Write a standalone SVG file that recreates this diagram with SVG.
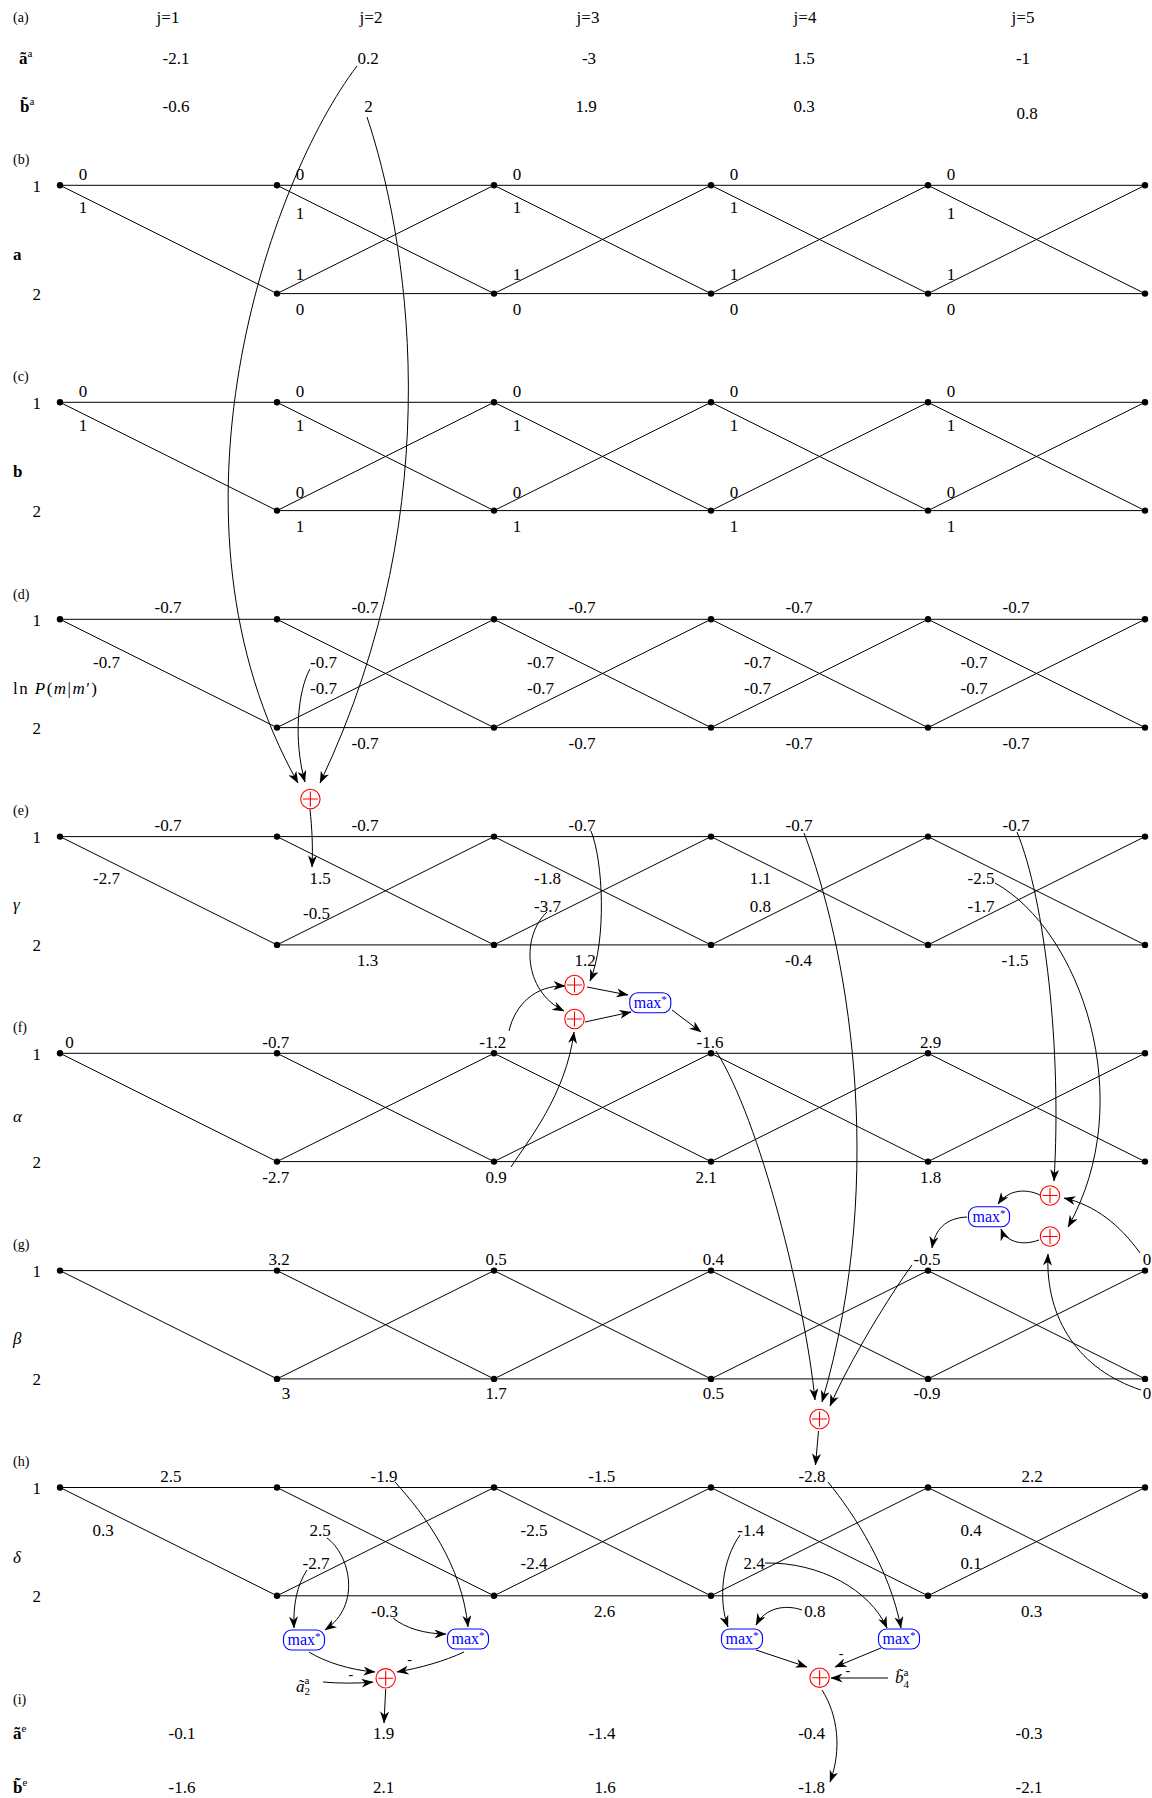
<svg xmlns="http://www.w3.org/2000/svg" xmlns:xlink="http://www.w3.org/1999/xlink" width="1152" height="1798" viewBox="0 0 1152 1798" font-family="'Liberation Serif', 'DejaVu Serif', serif">
<style>
.n{font-family:'Liberation Serif','DejaVu Serif',serif;font-size:17px;text-anchor:middle;fill:#000}
.l{font-family:'Liberation Serif','DejaVu Serif',serif;font-size:17px;fill:#000}
.sec{font-family:'Liberation Serif','DejaVu Serif',serif;font-size:14px;fill:#000}
.sup{font-size:11px;font-weight:normal;font-style:normal}
.edge{stroke:#000;stroke-width:1;fill:none}
.dot{fill:#000}
.c{stroke:#000;stroke-width:1;fill:none;marker-end:url(#arr)}
.plus circle{fill:#fff;stroke:#f00;stroke-width:1.1}
.plus path{stroke:#f00;stroke-width:1.1;fill:none}
.mx rect{fill:#fff;stroke:#00f;stroke-width:1.1}
.mx text{font-family:'Liberation Serif','DejaVu Serif',serif;font-size:16px;fill:#00f;text-anchor:middle}
.mn{font-family:'Liberation Serif','DejaVu Serif',serif;font-size:14px;text-anchor:middle;fill:#000}
</style>
<defs>
<marker id="arr" viewBox="0 0 12 9" refX="11.5" refY="4.5" markerWidth="12" markerHeight="9" orient="auto" markerUnits="userSpaceOnUse"><path d="M0,0 L12,4.5 L0,9 L3.5,4.5 Z" fill="#000"/></marker>
<g id="trellis">
<path class="edge" d="M60,0H1145 M277,108.3H1145 M60,0L277,108.3 M277,0L494,108.3 M494,0L711,108.3 M711,0L928,108.3 M928,0L1145,108.3 M277,108.3L494,0 M494,108.3L711,0 M711,108.3L928,0 M928,108.3L1145,0"/>
<g class="dot">
<circle cx="60" cy="0" r="3.2"/><circle cx="277" cy="0" r="3.2"/><circle cx="494" cy="0" r="3.2"/><circle cx="711" cy="0" r="3.2"/><circle cx="928" cy="0" r="3.2"/><circle cx="1145" cy="0" r="3.2"/>
<circle cx="277" cy="108.3" r="3.2"/><circle cx="494" cy="108.3" r="3.2"/><circle cx="711" cy="108.3" r="3.2"/><circle cx="928" cy="108.3" r="3.2"/><circle cx="1145" cy="108.3" r="3.2"/>
</g>
</g>
</defs>
<rect width="1152" height="1798" fill="#fff"/>

<!-- (a) -->
<g id="sec-a">
<text class="sec" x="13" y="22">(a)</text>
<text class="n" x="168" y="23">j=1</text><text class="n" x="371" y="23">j=2</text><text class="n" x="588" y="23">j=3</text><text class="n" x="805" y="23">j=4</text><text class="n" x="1023" y="23">j=5</text>
<text class="l" x="19" y="64" font-weight="bold">ã<tspan class="sup" dy="-7">a</tspan></text>
<text class="l" x="20" y="112" font-weight="bold">b&#x303;<tspan class="sup" dy="-7">a</tspan></text>
<text class="n" x="176" y="64">-2.1</text><text class="n" x="368" y="64">0.2</text><text class="n" x="589" y="64">-3</text><text class="n" x="804" y="64">1.5</text><text class="n" x="1023" y="64">-1</text>
<text class="n" x="176" y="112">-0.6</text><text class="n" x="368.5" y="112">2</text><text class="n" x="586" y="112">1.9</text><text class="n" x="804" y="112">0.3</text><text class="n" x="1027" y="118.5">0.8</text>
</g>

<!-- (b) -->
<g id="sec-b">
<text class="sec" x="13" y="164">(b)</text>
<use xlink:href="#trellis" href="#trellis" y="185.3"/>
<text class="n" x="36.7" y="191.5">1</text><text class="n" x="36.7" y="299.5">2</text>
<text class="l" x="13" y="260" font-weight="bold">a</text>
<text class="n" x="83" y="180">0</text><text class="n" x="300" y="180">0</text><text class="n" x="517" y="180">0</text><text class="n" x="734" y="180">0</text><text class="n" x="951" y="180">0</text>
<text class="n" x="83" y="213">1</text><text class="n" x="300" y="219">1</text><text class="n" x="517" y="213">1</text><text class="n" x="734" y="213">1</text><text class="n" x="951" y="219">1</text>
<text class="n" x="300" y="280">1</text><text class="n" x="517" y="280">1</text><text class="n" x="734" y="280">1</text><text class="n" x="951" y="280">1</text>
<text class="n" x="300" y="315">0</text><text class="n" x="517" y="315">0</text><text class="n" x="734" y="315">0</text><text class="n" x="951" y="315">0</text>
</g>

<!-- (c) -->
<g id="sec-c">
<text class="sec" x="13" y="381">(c)</text>
<use xlink:href="#trellis" href="#trellis" y="402.3"/>
<text class="n" x="36.7" y="408.5">1</text><text class="n" x="36.7" y="517">2</text>
<text class="l" x="13" y="476.5" font-weight="bold">b</text>
<text class="n" x="83" y="396.5">0</text><text class="n" x="300" y="396.5">0</text><text class="n" x="517" y="396.5">0</text><text class="n" x="734" y="396.5">0</text><text class="n" x="951" y="396.5">0</text>
<text class="n" x="83" y="431">1</text><text class="n" x="300" y="431">1</text><text class="n" x="517" y="431">1</text><text class="n" x="734" y="431">1</text><text class="n" x="951" y="431">1</text>
<text class="n" x="300" y="497.5">0</text><text class="n" x="517" y="497.5">0</text><text class="n" x="734" y="497.5">0</text><text class="n" x="951" y="497.5">0</text>
<text class="n" x="300" y="532">1</text><text class="n" x="517" y="532">1</text><text class="n" x="734" y="532">1</text><text class="n" x="951" y="532">1</text>
</g>

<!-- (d) -->
<g id="sec-d">
<text class="sec" x="13" y="599">(d)</text>
<use xlink:href="#trellis" href="#trellis" y="619.3"/>
<text class="n" x="36.7" y="625.5">1</text><text class="n" x="36.7" y="734">2</text>
<text class="l" x="13" y="694" textLength="84">ln <tspan font-style="italic">P</tspan>(<tspan font-style="italic">m</tspan>|<tspan font-style="italic">m</tspan>′)</text>
<text class="n" x="168" y="613">-0.7</text><text class="n" x="365" y="613">-0.7</text><text class="n" x="582" y="613">-0.7</text><text class="n" x="799" y="613">-0.7</text><text class="n" x="1016" y="613">-0.7</text>
<text class="n" x="106.5" y="667.5">-0.7</text><text class="n" x="323.5" y="667.5">-0.7</text><text class="n" x="540.5" y="667.5">-0.7</text><text class="n" x="757.5" y="667.5">-0.7</text><text class="n" x="974" y="667.5">-0.7</text>
<text class="n" x="323.5" y="694">-0.7</text><text class="n" x="540.5" y="694">-0.7</text><text class="n" x="757.5" y="694">-0.7</text><text class="n" x="974" y="694">-0.7</text>
<text class="n" x="365" y="748.5">-0.7</text><text class="n" x="582" y="748.5">-0.7</text><text class="n" x="799" y="748.5">-0.7</text><text class="n" x="1016" y="748.5">-0.7</text>
</g>

<!-- (e) -->
<g id="sec-e">
<text class="sec" x="13" y="815">(e)</text>
<use xlink:href="#trellis" href="#trellis" y="836.6"/>
<text class="n" x="36.7" y="842.5">1</text><text class="n" x="36.7" y="951">2</text>
<text class="l" x="13" y="910" font-style="italic">γ</text>
<text class="n" x="168" y="830.5">-0.7</text><text class="n" x="365" y="830.5">-0.7</text><text class="n" x="582" y="830.5">-0.7</text><text class="n" x="799" y="830.5">-0.7</text><text class="n" x="1016" y="830.5">-0.7</text>
<text class="n" x="106.5" y="884">-2.7</text>
<text class="n" x="320" y="884">1.5</text><text class="n" x="316.5" y="918.5">-0.5</text>
<text class="n" x="547.5" y="884">-1.8</text><text class="n" x="547.5" y="912">-3.7</text>
<text class="n" x="760.4" y="884">1.1</text><text class="n" x="760.4" y="912">0.8</text>
<text class="n" x="981" y="884">-2.5</text><text class="n" x="981" y="912">-1.7</text>
<text class="n" x="367.6" y="966">1.3</text><text class="n" x="585" y="966">1.2</text><text class="n" x="798.5" y="966">-0.4</text><text class="n" x="1015" y="966">-1.5</text>
</g>

<!-- (f) -->
<g id="sec-f">
<text class="sec" x="13" y="1032">(f)</text>
<use xlink:href="#trellis" href="#trellis" y="1053.3"/>
<text class="n" x="36.7" y="1059.5">1</text><text class="n" x="36.7" y="1168">2</text>
<text class="l" x="13" y="1121.5" font-style="italic">α</text>
<text class="n" x="69.5" y="1047.5">0</text><text class="n" x="275.8" y="1047.5">-0.7</text><text class="n" x="492.8" y="1047.5">-1.2</text><text class="n" x="710" y="1047.5">-1.6</text><text class="n" x="930.5" y="1047.5">2.9</text>
<text class="n" x="275.8" y="1182.5">-2.7</text><text class="n" x="496" y="1182.5">0.9</text><text class="n" x="706" y="1182.5">2.1</text><text class="n" x="930.5" y="1182.5">1.8</text>
</g>

<!-- (g) -->
<g id="sec-g">
<text class="sec" x="13" y="1248.5">(g)</text>
<use xlink:href="#trellis" href="#trellis" y="1270.6"/>
<text class="n" x="36.7" y="1276.8">1</text><text class="n" x="36.7" y="1385.3">2</text>
<text class="l" x="13" y="1344" font-style="italic" fill="#444">β</text>
<text class="n" x="279" y="1265">3.2</text><text class="n" x="496" y="1265">0.5</text><text class="n" x="713.4" y="1265">0.4</text><text class="n" x="927" y="1265">-0.5</text><text class="n" x="1147" y="1265">0</text>
<text class="n" x="286" y="1399.3">3</text><text class="n" x="496" y="1399.3">1.7</text><text class="n" x="713.4" y="1399.3">0.5</text><text class="n" x="927" y="1399.3">-0.9</text><text class="n" x="1147" y="1399.3">0</text>
</g>

<!-- (h) -->
<g id="sec-h">
<text class="sec" x="13" y="1465.5">(h)</text>
<use xlink:href="#trellis" href="#trellis" y="1487.5"/>
<text class="n" x="36.7" y="1493.7">1</text><text class="n" x="36.7" y="1602">2</text>
<text class="l" x="13" y="1562.5" font-style="italic">δ</text>
<text class="n" x="170.8" y="1481.7">2.5</text><text class="n" x="384" y="1481.7">-1.9</text><text class="n" x="601.7" y="1481.7">-1.5</text><text class="n" x="812" y="1481.7">-2.8</text><text class="n" x="1032" y="1481.7">2.2</text>
<text class="n" x="103" y="1535.7">0.3</text>
<text class="n" x="320" y="1535.7">2.5</text><text class="n" x="316" y="1569.3">-2.7</text>
<text class="n" x="534" y="1535.7">-2.5</text><text class="n" x="534" y="1569.3">-2.4</text>
<text class="n" x="750.8" y="1535.7">-1.4</text><text class="n" x="754" y="1569.3">2.4</text>
<text class="n" x="971" y="1535.7">0.4</text><text class="n" x="971" y="1569.3">0.1</text>
<text class="n" x="384.5" y="1616.5">-0.3</text><text class="n" x="604.6" y="1616.5">2.6</text><text class="n" x="814.8" y="1616.5">0.8</text><text class="n" x="1031.5" y="1616.5">0.3</text>
<text class="l" x="296" y="1691.5"><tspan font-style="italic">ã</tspan><tspan font-size="11" dy="3.5">2</tspan><tspan font-size="11" dx="-5.5" dy="-11">a</tspan></text>
<text class="l" x="895" y="1683"><tspan font-style="italic">b&#x303;</tspan><tspan font-size="11" dy="4.5">4</tspan><tspan font-size="11" dx="-5.5" dy="-12">a</tspan></text>
<text class="mn" x="409.6" y="1664">-</text><text class="mn" x="350.8" y="1678.7">-</text><text class="mn" x="841.2" y="1658">-</text><text class="mn" x="847.9" y="1674.7">-</text>
</g>

<!-- (i) -->
<g id="sec-i">
<text class="sec" x="13" y="1703.5">(i)</text>
<text class="l" x="13" y="1739" font-weight="bold">ã<tspan class="sup" dy="-7">e</tspan></text>
<text class="l" x="13" y="1793" font-weight="bold">b&#x303;<tspan class="sup" dy="-7">e</tspan></text>
<text class="n" x="182" y="1739">-0.1</text><text class="n" x="383.5" y="1739">1.9</text><text class="n" x="602" y="1739">-1.4</text><text class="n" x="811.6" y="1739">-0.4</text><text class="n" x="1029" y="1739">-0.3</text>
<text class="n" x="182" y="1793">-1.6</text><text class="n" x="383.5" y="1793">2.1</text><text class="n" x="605" y="1793">1.6</text><text class="n" x="811.6" y="1793">-1.8</text><text class="n" x="1029" y="1793">-2.1</text>
</g>

<!-- connectors -->
<g id="connectors">
<path class="c" d="M357,66 C270,180 150,520 298,783"/>
<path class="c" d="M367,117 C405,230 455,500 320,783"/>
<path class="c" d="M310,669 C298,690 293,740 305,782"/>
<path class="c" d="M310,809 C312,830 313,845 312,867"/>
<path class="c" d="M591,831 C603,860 607,940 590,981"/>
<path class="c" d="M547,912 C522,935 522,990 564,1011"/>
<path class="c" d="M509,1031 C515,1005 535,985 565,986"/>
<path class="c" d="M511,1167 C527,1142 566,1095 574,1032"/>
<path class="c" d="M587,987 L628,995"/>
<path class="c" d="M585,1022 L631,1012"/>
<path class="c" d="M672,1010 L701,1032"/>
<path class="c" d="M804,833 C845,940 890,1170 822,1402"/>
<path class="c" d="M716,1051 C760,1120 805,1300 815,1400"/>
<path class="c" d="M912,1265 C890,1295 850,1360 830,1406"/>
<path class="c" d="M818.5,1431 L815.5,1465"/>
<path class="c" d="M1017,832 C1045,900 1062,1050 1054,1181"/>
<path class="c" d="M995,883 C1080,930 1140,1100 1068,1227"/>
<path class="c" d="M1140,1253 C1120,1225 1095,1205 1064,1198"/>
<path class="c" d="M1141,1390 C1080,1370 1045,1320 1048,1254"/>
<path class="c" d="M1040,1195 C1025,1188 1008,1190 998,1204"/>
<path class="c" d="M1039,1240 C1020,1247 1005,1240 1001,1229"/>
<path class="c" d="M967,1217 C945,1218 935,1230 932,1248"/>
<path class="c" d="M395,1482 C425,1515 462,1565 468,1627"/>
<path class="c" d="M327,1538 C350,1555 362,1605 325,1630"/>
<path class="c" d="M307,1570 C297,1585 293,1605 294,1628"/>
<path class="c" d="M393,1618 C405,1628 425,1634 446,1634"/>
<path class="c" d="M309,1652 C325,1662 350,1670 375,1672"/>
<path class="c" d="M464,1652 C445,1661 420,1668 397,1672"/>
<path class="c" d="M323,1682 C340,1683.5 358,1683.5 373,1682"/>
<path class="c" d="M385.7,1689 L384,1723"/>
<path class="c" d="M740,1535 C722,1560 718,1600 728,1627"/>
<path class="c" d="M765,1563 C820,1562 870,1590 887,1628"/>
<path class="c" d="M828,1482 C855,1515 890,1570 901,1628"/>
<path class="c" d="M802,1610 C785,1604 765,1608 756,1625"/>
<path class="c" d="M756,1650 L807,1667"/>
<path class="c" d="M881,1648 L835,1667"/>
<path class="c" d="M888,1678 L831,1678"/>
<path class="c" d="M822,1690 C838,1715 842,1750 830,1782"/>
</g>

<!-- operator nodes -->
<g id="plusA" class="plus" transform="translate(310.4,799)"><circle r="9.7"/><path d="M-7.5,0H7.5M0,-7.5V7.5"/></g>
<g id="plusB" class="plus" transform="translate(574.5,985)"><circle r="9.7"/><path d="M-7.5,0H7.5M0,-7.5V7.5"/></g>
<g id="plusC" class="plus" transform="translate(574.5,1019)"><circle r="9.7"/><path d="M-7.5,0H7.5M0,-7.5V7.5"/></g>
<g id="plusD" class="plus" transform="translate(1050,1195.5)"><circle r="9.7"/><path d="M-7.5,0H7.5M0,-7.5V7.5"/></g>
<g id="plusE" class="plus" transform="translate(1050,1236.5)"><circle r="9.7"/><path d="M-7.5,0H7.5M0,-7.5V7.5"/></g>
<g id="plusF" class="plus" transform="translate(819.5,1419)"><circle r="9.7"/><path d="M-7.5,0H7.5M0,-7.5V7.5"/></g>
<g id="plusG" class="plus" transform="translate(385.7,1678.3)"><circle r="9.7"/><path d="M-7.5,0H7.5M0,-7.5V7.5"/></g>
<g id="plusH" class="plus" transform="translate(819.6,1677.7)"><circle r="9.7"/><path d="M-7.5,0H7.5M0,-7.5V7.5"/></g>

<g id="max1" class="mx" transform="translate(650.3,1002.7)"><rect x="-20.5" y="-10" width="41" height="20" rx="8"/><text y="5">max<tspan font-size="11" dy="-5">*</tspan></text></g>
<g id="max2" class="mx" transform="translate(989,1216.7)"><rect x="-20.5" y="-10" width="41" height="20" rx="8"/><text y="5">max<tspan font-size="11" dy="-5">*</tspan></text></g>
<g id="max3" class="mx" transform="translate(304,1640)"><rect x="-20.5" y="-10" width="41" height="20" rx="8"/><text y="5">max<tspan font-size="11" dy="-5">*</tspan></text></g>
<g id="max4" class="mx" transform="translate(468,1639)"><rect x="-20.5" y="-10" width="41" height="20" rx="8"/><text y="5">max<tspan font-size="11" dy="-5">*</tspan></text></g>
<g id="max5" class="mx" transform="translate(742,1639)"><rect x="-20.5" y="-10" width="41" height="20" rx="8"/><text y="5">max<tspan font-size="11" dy="-5">*</tspan></text></g>
<g id="max6" class="mx" transform="translate(899,1639)"><rect x="-20.5" y="-10" width="41" height="20" rx="8"/><text y="5">max<tspan font-size="11" dy="-5">*</tspan></text></g>
</svg>
